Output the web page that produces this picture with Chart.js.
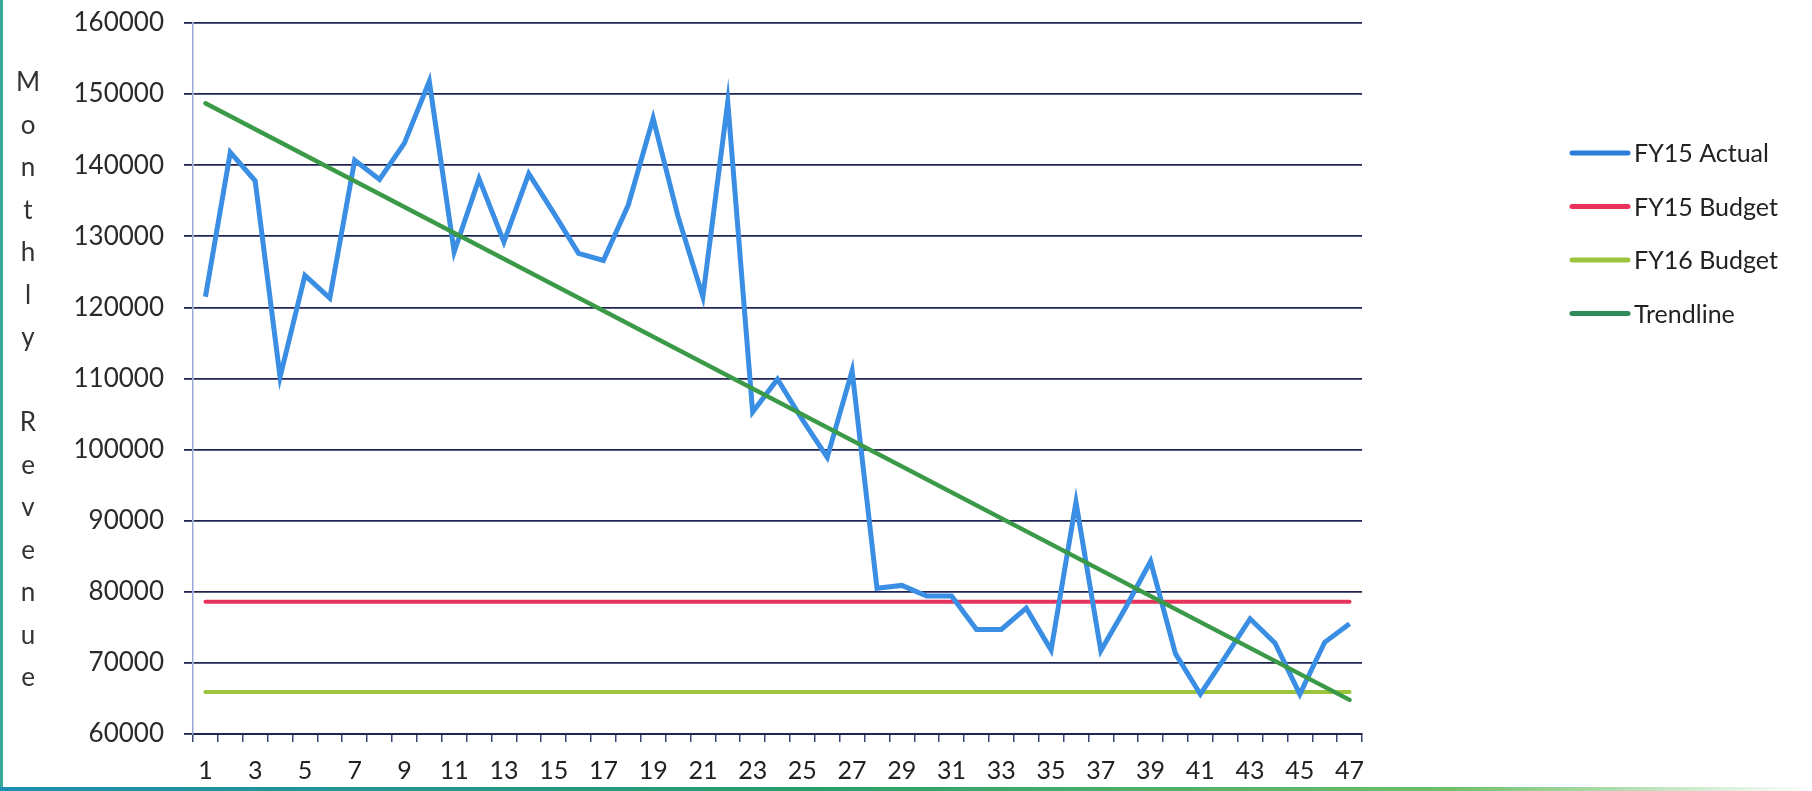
<!DOCTYPE html>
<html>
<head>
<meta charset="utf-8">
<title>Monthly Revenue</title>
<script src="https://cdn.jsdelivr.net/npm/chart.js@4.4.1/dist/chart.umd.min.js"></script>
<style>
  html, body { margin: 0; padding: 0; background: #fff; }
  #wrap { position: relative; width: 1812px; height: 791px; overflow: hidden; }
  #leftEdge { position: absolute; left: 0; top: 0; width: 3px; height: 791px; background: #3aa79b; }
  #bottomEdge { position: absolute; left: 0; bottom: 0; width: 1812px; height: 4px;
    background: linear-gradient(to right, #1d8fb3, #2a9f6a 45%, #6fbf6a 80%, rgba(255,255,255,0)); }
</style>
</head>
<body>
<div id="wrap">
  <canvas id="revenueChart"></canvas>
  <div id="leftEdge"></div>
  <div id="bottomEdge"></div>
</div>
<script>
const months = ['1','2','3','4','5','6','7','8','9','10','11','12','13','14','15','16',
  '17','18','19','20','21','22','23','24','25','26','27','28','29','30','31','32',
  '33','34','35','36','37','38','39','40','41','42','43','44','45','46','47'];

const fy15Actual = [121500, 141800, 137800, 110200, 124500, 121300, 140700, 138000, 143100, 151800,
  127800, 138100, 129200, 138800, 133300, 127600, 126600, 134400, 146600, 132800,
  121500, 148900, 105300, 109900, 104200, 98900, 111100, 80500, 80900, 79400,
  79400, 74700, 74700, 77700, 71800, 92600, 71700, 77800, 84300, 71300,
  65600, 70800, 76200, 72800, 65600, 72900, 75500];

// flat budget lines and trendline, given by their end points
const fy15Budget = [78600, 78600];
const fy16Budget = [65900, 65900];
const trendline = [148700, 64800];

const seriesNames = ['FY15 Actual', 'FY15 Budget', 'FY16 Budget', 'Trendline'];
const seriesColors = ['#3a8ee3', '#e8345c', '#9cc43c', '#3a9a48'];
const legendColors = ['#2a7fd8', '#e8345c', '#9cc43c', '#2e8b5a'];
const yTitle = 'Monthly Revenue';

const FONT = 'Lato, "Open Sans", sans-serif';

function ends(vals) {
  return [{ x: months[0], y: vals[0] }, { x: months[months.length - 1], y: vals[1] }];
}

// stacked y-axis title letters
const stackedTitle = {
  id: 'stackedTitle',
  afterDraw(chart) {
    const ctx = chart.ctx;
    ctx.save();
    ctx.font = '26px ' + FONT;
    ctx.fillStyle = '#333';
    ctx.textAlign = 'center';
    ctx.textBaseline = 'middle';
    yTitle.split('').forEach((c, i) => {
      if (c !== ' ') ctx.fillText(c, 28, 83 + i * 42.5);
    });
    ctx.restore();
  }
};

// legend drawn to the right of the plot
const sideLegend = {
  id: 'sideLegend',
  afterDraw(chart) {
    const ctx = chart.ctx;
    const x0 = chart.chartArea.right + 210;
    const y0 = 153;
    ctx.save();
    ctx.font = '25px ' + FONT;
    ctx.textBaseline = 'middle';
    ctx.textAlign = 'left';
    seriesNames.forEach((name, i) => {
      const y = y0 + i * 53.5;
      ctx.strokeStyle = legendColors[i];
      ctx.lineWidth = 5;
      ctx.lineCap = 'round';
      ctx.beginPath();
      ctx.moveTo(x0, y);
      ctx.lineTo(x0 + 56, y);
      ctx.stroke();
      ctx.fillStyle = '#222';
      ctx.fillText(name, x0 + 62, y + 1);
    });
    ctx.restore();
  }
};

new Chart(document.getElementById('revenueChart'), {
  type: 'line',
  data: {
    labels: months,
    datasets: [
      { label: seriesNames[0], data: fy15Actual, borderColor: seriesColors[0], borderWidth: 5, order: 1 },
      { label: seriesNames[1], data: ends(fy15Budget), borderColor: seriesColors[1], borderWidth: 4, borderCapStyle: 'round', order: 3 },
      { label: seriesNames[2], data: ends(fy16Budget), borderColor: seriesColors[2], borderWidth: 4, borderCapStyle: 'round', order: 4 },
      { label: seriesNames[3], data: ends(trendline), borderColor: seriesColors[3], borderWidth: 4.5, borderCapStyle: 'round', order: 0 }
    ]
  },
  options: {
    responsive: true,
    maintainAspectRatio: false,
    animation: false,
    layout: { padding: { left: 63, right: 450, top: 23, bottom: 0 } },
    elements: { point: { radius: 0 }, line: { tension: 0 } },
    plugins: { legend: { display: false }, tooltip: { enabled: false } },
    scales: {
      x: {
        offset: true,
        afterFit(scale) { scale.height = 57; scale.paddingLeft = 0; scale.paddingRight = 0; },
        grid: { offset: true, drawOnChartArea: false, drawTicks: true, tickLength: 8, color: '#3b4477', lineWidth: 1.5 },
        border: { display: true, color: '#1f2450', width: 2 },
        ticks: {
          autoSkip: false, maxRotation: 0, padding: 14,
          font: { family: FONT, size: 25 }, color: '#222',
          callback: (v, i) => (i % 2 === 0 ? months[i] : '')
        }
      },
      y: {
        min: 60000, max: 160000,
        afterFit(scale) { scale.width = 130; scale.paddingTop = 0; scale.paddingBottom = 0; },
        grid: { color: '#1f2450', lineWidth: 1.8, tickLength: 9 },
        border: { display: true, color: '#9aa8d6', width: 1.5 },
        ticks: {
          stepSize: 10000, padding: 20,
          font: { family: FONT, size: 26 }, color: '#2a2a2a',
          callback: v => String(v)
        }
      }
    }
  },
  plugins: [stackedTitle, sideLegend]
});
</script>
</body>
</html>
